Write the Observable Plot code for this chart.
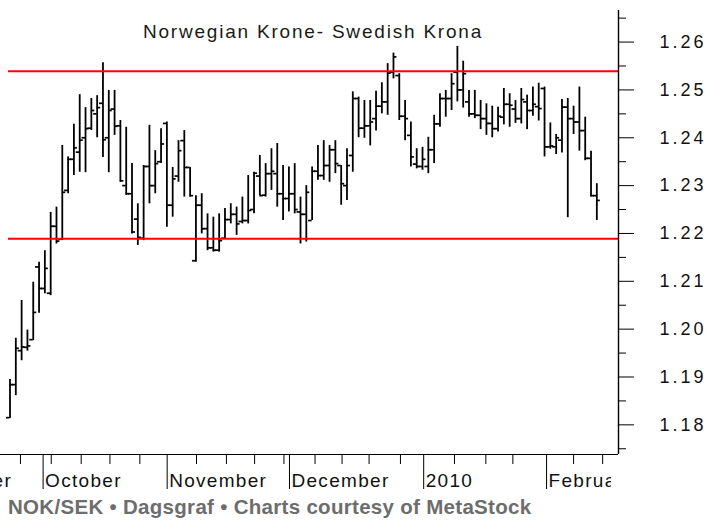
<!DOCTYPE html>
<html><head><meta charset="utf-8">
<script src="https://cdn.jsdelivr.net/npm/d3@7"></script>
<script src="https://cdn.jsdelivr.net/npm/@observablehq/plot@0.6"></script>
<style>
body{margin:0;background:#fff;width:707px;overflow:hidden;}
#caption{font-family:"Liberation Sans",Arial,sans-serif;font-weight:bold;font-size:20.5px;letter-spacing:0.3px;color:#6d6d6d;padding-left:8px;height:34px;line-height:30px;white-space:nowrap;}
g[aria-label="y-axis tick label"] text{letter-spacing:3px;}
</style></head>
<body><div id="chart"></div><div id="caption">NOK/SEK • Dagsgraf • Charts courtesy of MetaStock</div>
<script>
// Daily bars (trading-day index 0..101), NOK/SEK
const openP = [1.1815,1.1884,1.1955,1.1962,1.1978,1.2130,1.2085,1.2075,1.2215,1.2188,
1.2290,1.2355,1.2370,1.2400,1.2420,1.2450,1.2472,1.2400,1.2460,1.2425,
1.2300,1.2283,1.2230,1.2190,1.2340,1.2300,1.2350,1.2430,1.2259,1.2320,
1.2394,1.2338,1.2143,1.2259,1.2210,1.2170,1.2165,1.2190,1.2229,1.2240,
1.2225,1.2227,1.2250,1.2320,1.2280,1.2325,1.2325,1.2283,1.2273,1.2283,
1.2245,1.2240,1.2227,1.2330,1.2321,1.2342,1.2375,1.2342,1.2300,1.2363,
1.2482,1.2420,1.2425,1.2440,1.2466,1.2475,1.2537,1.2530,1.2445,1.2405,
1.2345,1.2340,1.2340,1.2375,1.2429,1.2482,1.2482,1.2537,1.2500,1.2475,
1.2450,1.2447,1.2440,1.2430,1.2419,1.2443,1.2470,1.2460,1.2440,1.2475,
1.2457,1.2465,1.2503,1.2381,1.2381,1.2395,1.2464,1.2440,1.2433,1.2415,
1.2357,1.2279];
const highP = [1.1895,1.1981,1.2060,1.1998,1.2098,1.2140,1.2164,1.2244,1.2255,1.2384,
1.2360,1.2428,1.2490,1.2463,1.2482,1.2488,1.2557,1.2499,1.2499,1.2436,
1.2422,1.2346,1.2262,1.2342,1.2426,1.2373,1.2419,1.2433,1.2338,1.2394,
1.2415,1.2338,1.2279,1.2283,1.2241,1.2234,1.2241,1.2252,1.2262,1.2255,
1.2276,1.2321,1.2328,1.2363,1.2346,1.2377,1.2388,1.2342,1.2339,1.2346,
1.2276,1.2300,1.2339,1.2384,1.2394,1.2384,1.2394,1.2342,1.2377,1.2496,
1.2485,1.2478,1.2478,1.2497,1.2515,1.2555,1.2577,1.2534,1.2478,1.2433,
1.2377,1.2380,1.2401,1.2447,1.2492,1.2499,1.2534,1.2591,1.2560,1.2499,
1.2499,1.2478,1.2471,1.2466,1.2464,1.2503,1.2492,1.2478,1.2503,1.2489,
1.2506,1.2514,1.2506,1.2431,1.2407,1.2480,1.2482,1.2466,1.2506,1.2443,
1.2372,1.2304];
const lowP = [1.1813,1.1861,1.1934,1.1954,1.1976,1.2033,1.2074,1.2070,1.2178,1.2185,
1.2283,1.2321,1.2328,1.2327,1.2415,1.2400,1.2359,1.2327,1.2405,1.2307,
1.2280,1.2199,1.2175,1.2185,1.2262,1.2283,1.2346,1.2213,1.2234,1.2307,
1.2276,1.2276,1.2140,1.2199,1.2164,1.2161,1.2161,1.2189,1.2220,1.2196,
1.2220,1.2220,1.2241,1.2279,1.2276,1.2290,1.2255,1.2227,1.2245,1.2241,
1.2178,1.2182,1.2227,1.2311,1.2311,1.2307,1.2325,1.2259,1.2269,1.2328,
1.2400,1.2399,1.2383,1.2414,1.2450,1.2447,1.2523,1.2436,1.2394,1.2339,
1.2335,1.2332,1.2325,1.2346,1.2422,1.2443,1.2457,1.2475,1.2462,1.2443,
1.2440,1.2417,1.2405,1.2400,1.2412,1.2427,1.2422,1.2430,1.2429,1.2417,
1.2445,1.2435,1.2360,1.2376,1.2365,1.2368,1.2233,1.2407,1.2372,1.2352,
1.2276,1.2227];
const closeP = [1.1884,1.1960,1.1963,1.1965,1.2035,1.2085,1.2127,1.2215,1.2184,1.2286,
1.2355,1.2379,1.2395,1.2419,1.2457,1.2463,1.2396,1.2457,1.2424,1.2310,
1.2283,1.2203,1.2192,1.2340,1.2300,1.2346,1.2387,1.2259,1.2314,1.2373,
1.2338,1.2279,1.2259,1.2210,1.2170,1.2165,1.2185,1.2229,1.2240,1.2220,
1.2227,1.2248,1.2326,1.2279,1.2325,1.2330,1.2283,1.2273,1.2283,1.2250,
1.2240,1.2286,1.2330,1.2321,1.2342,1.2375,1.2346,1.2304,1.2342,1.2482,
1.2420,1.2425,1.2433,1.2466,1.2475,1.2535,1.2569,1.2445,1.2440,1.2360,
1.2340,1.2355,1.2375,1.2429,1.2482,1.2482,1.2513,1.2500,1.2534,1.2450,
1.2447,1.2440,1.2430,1.2419,1.2445,1.2470,1.2468,1.2440,1.2480,1.2457,
1.2470,1.2461,1.2381,1.2383,1.2400,1.2464,1.2440,1.2433,1.2415,1.2357,
1.2279,1.2269];

const titleText = "Norwegian Krone- Swedish Krona";
const monthNames = ["September","October","November","December","2010","February"];
const monthStarts = [-18.0, 5.7, 27.05, 48.1, 71.2, 92.35];   // trading-day index of month separators
const weekTicks = [1.8, 7.1, 12.25, 17.2, 22.35, 32.1, 37.25, 42.1, 47.15, 52.5, 57.15, 61.8, 67.2, 76.5, 81.9, 86.55, 97, 102];
const majorTicks = [1.18, 1.19, 1.20, 1.21, 1.22, 1.23, 1.24, 1.25, 1.26];
const minorTicks = [1.175, 1.185, 1.195, 1.205, 1.215, 1.225, 1.235, 1.245, 1.255, 1.265];
const levels = [1.2539, 1.2189];     // horizontal red support / resistance lines
const levelStart = -0.26;            // trading-day index where the red lines begin
const yDomain = [1.1738, 1.2666];
const xDomain = [-1.635, 104.73];

const bars = openP.map((o, i) => ({i, open: o, high: highP[i], low: lowP[i], close: closeP[i]}));
const months = monthNames.map((name, k) => ({name, i: monthStarts[k]}));
const tickLen = 0.6;
const font = '"Liberation Sans", Arial, sans-serif';

const plot = Plot.plot({
  width: 707, height: 492,
  marginLeft: 0, marginRight: 89, marginTop: 10, marginBottom: 38,
  x: {domain: xDomain, axis: null},
  y: {domain: yDomain, axis: null},
  style: {fontFamily: font, background: "#fff", color: "#000", overflow: "hidden"},
  marks: [
    Plot.ruleX(bars, {x: "i", y1: "low", y2: "high", stroke: "#000", strokeWidth: 1.8}),
    Plot.ruleY(bars, {y: "open", x1: d => d.i - tickLen, x2: "i", stroke: "#000", strokeWidth: 1.7}),
    Plot.ruleY(bars, {y: "close", x1: "i", x2: d => d.i + tickLen, stroke: "#000", strokeWidth: 1.7}),
    Plot.ruleY(levels, {y: d => d, x1: levelStart, x2: xDomain[1], stroke: "#ff0000", strokeWidth: 2}),
    Plot.ruleX([xDomain[1]], {stroke: "#000", strokeWidth: 1.4}),
    Plot.ruleY([yDomain[0]], {stroke: "#000", strokeWidth: 1.2}),
    Plot.axisY(majorTicks, {anchor: "right", tickSize: 15, tickPadding: 26, tickFormat: d3.format(".2f"),
      fontSize: 18, fill: "#111", stroke: "#000", label: null}),
    Plot.axisY(minorTicks, {anchor: "right", tickSize: 7, fill: "none", stroke: "#000", label: null}),
    Plot.axisX(monthStarts, {anchor: "bottom", tickSize: 35, fill: "none", stroke: "#000", label: null}),
    Plot.axisX(weekTicks, {anchor: "bottom", tickSize: 10, fill: "none", stroke: "#000", label: null}),
    Plot.text(months, {x: "i", text: "name", frameAnchor: "bottom", lineAnchor: "bottom", textAnchor: "start",
      dx: 2, dy: 32, fontSize: 19, fill: "#111"}),
    Plot.text([titleText], {frameAnchor: "top", lineAnchor: "bottom", dy: 27, dx: 3.5, fontSize: 19,
      fill: "#1a1a1a"})
  ]
});
document.getElementById("chart").appendChild(plot);

// the two text marks, in mark order: month labels, then title
const textGroups = plot.querySelectorAll('g[aria-label="text"]');
const monthGroup = textGroups[0], titleGroup = textGroups[1];
if (titleGroup) titleGroup.style.letterSpacing = "1.8px";
if (monthGroup) {
  monthGroup.style.letterSpacing = "1.3px";
  // clip the month labels at the end of the data, as in the original
  d3.select(plot).append("defs").append("clipPath").attr("id", "month-clip")
    .append("rect").attr("x", -200).attr("y", 0).attr("width", 811).attr("height", 492);
  const wrap = document.createElementNS("http://www.w3.org/2000/svg", "g");
  wrap.setAttribute("clip-path", "url(#month-clip)");
  monthGroup.parentNode.insertBefore(wrap, monthGroup);
  wrap.appendChild(monthGroup);
}
</script>
</body></html>
